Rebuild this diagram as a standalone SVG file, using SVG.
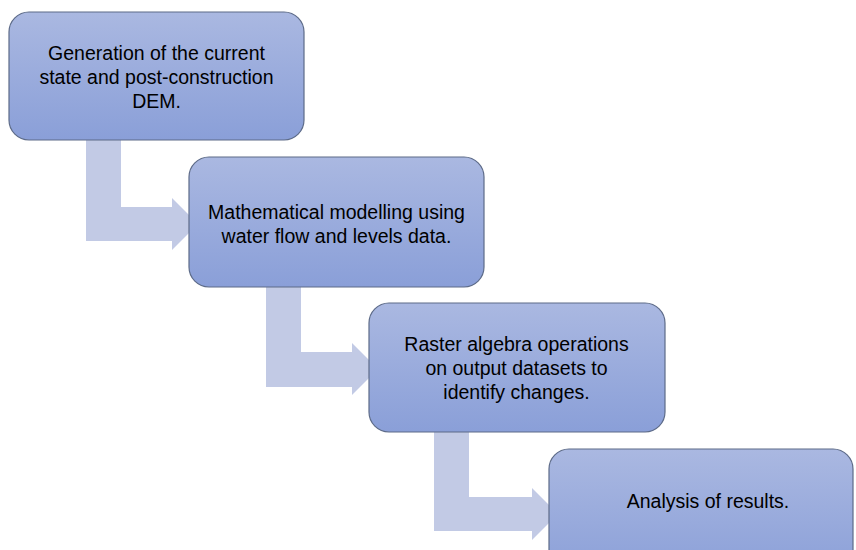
<svg xmlns="http://www.w3.org/2000/svg" width="856" height="550" viewBox="0 0 856 550">
<defs>
<linearGradient id="g" x1="0" y1="0" x2="0" y2="1">
<stop offset="0" stop-color="#aab8e1"/>
<stop offset="1" stop-color="#8a9fd8"/>
</linearGradient>
<style>
.box{fill:url(#g);stroke:#5d6b88;stroke-width:1.2}
.arr{fill:#c2cae5}
text{font-family:"Liberation Sans",Arial,sans-serif;font-size:19.5px;fill:#000;text-anchor:middle}
</style>
</defs>
<rect width="856" height="550" fill="#fff"/>
<g id="connectors">
<path class="arr" d="M86,140 H121 V207 H172 V198 L198,224 L172,250 V241 H86 Z"/>
<path class="arr" d="M266,287 H301 V352 H352 V343 L378,369 L352,395 V387 H266 Z"/>
<path class="arr" d="M434,432 H469 V497 H532 V488 L558,514 L532,540 V531 H434 Z"/>
</g>
<g id="node1">
<rect class="box" x="9" y="12" width="295" height="128" rx="20"/>
<text x="156.5" y="60">Generation of the current</text>
<text x="156.5" y="84">state and post-construction</text>
<text x="156.5" y="108">DEM.</text>
</g>
<g id="node2">
<rect class="box" x="189" y="157" width="295" height="130" rx="20"/>
<text x="336.5" y="219">Mathematical modelling using</text>
<text x="336.5" y="243">water flow and levels data.</text>
</g>
<g id="node3">
<rect class="box" x="369" y="303" width="296" height="129" rx="20"/>
<text x="516.5" y="351">Raster algebra operations</text>
<text x="516.5" y="375">on output datasets to</text>
<text x="516.5" y="399">identify changes.</text>
</g>
<g id="node4">
<rect class="box" x="549" y="449" width="304" height="130" rx="20"/>
<text x="708" y="508">Analysis of results.</text>
</g>
</svg>
